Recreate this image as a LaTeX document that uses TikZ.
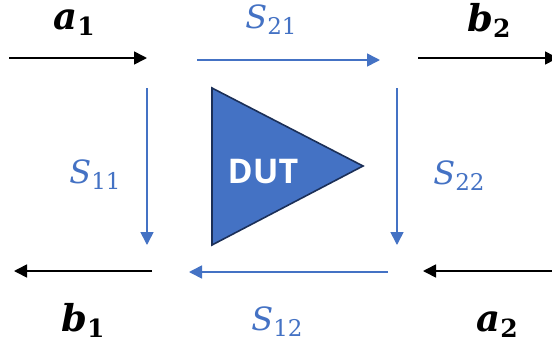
\documentclass[tikz,border=0pt]{standalone}
\usepackage{fontspec}
\setmainfont{DejaVu Serif}
\newfontfamily\dutfont{Open Sans}
\usetikzlibrary{arrows.meta}
\definecolor{dutblue}{HTML}{4472C4}
\definecolor{dutedge}{HTML}{1B2F57}
\tikzset{
  wave/.style={draw=black,line width=1.6pt,-{Triangle[length=13pt,width=13pt]}},
  param/.style={draw=dutblue,line width=1.6pt,-{Triangle[length=13pt,width=13pt]}},
  sparam/.style={text=dutblue,inner sep=0pt,font=\fontsize{32}{32}\selectfont},
  wavelabel/.style={text=black,inner sep=0pt,font=\fontsize{37}{37}\selectfont},
}
\newcommand{\spar}[2]{\textit{S}\raisebox{-6pt}{\fontsize{23}{23}\selectfont #1#2}}
\newcommand{\wvar}[1]{\textbf{\textit{a}}\raisebox{-6pt}{\fontsize{25}{25}\selectfont\bfseries #1}}
\newcommand{\wvarb}[1]{\textbf{\textit{b}}\raisebox{-6pt}{\fontsize{25}{25}\selectfont\bfseries #1}}
\begin{document}
\begin{tikzpicture}[x=1pt,y=-1pt]
\useasboundingbox (0,0) rectangle (552,349);
\fill[white] (0,0) rectangle (552,349);
% triangle
\path[fill=dutblue,draw=dutedge,line width=1.6pt,line join=miter] (212,88) -- (212,245) -- (363,166) -- cycle;
\node[inner sep=0pt,text=white,font=\dutfont\bfseries\fontsize{34}{34}\selectfont] (dut) at (263,172) {DUT};
% end points
\coordinate (a1s) at (9,58);    \coordinate (a1e) at (147,58);
\coordinate (s21s) at (197,60); \coordinate (s21e) at (380,60);
\coordinate (b2s) at (418,58);  \coordinate (b2e) at (558,58);
\coordinate (s11s) at (147,88); \coordinate (s11e) at (147,245);
\coordinate (s22s) at (397,88); \coordinate (s22e) at (397,245);
\coordinate (b1s) at (152,271); \coordinate (b1e) at (14,271);
\coordinate (s12s) at (388,272);\coordinate (s12e) at (189,272);
\coordinate (a2s) at (556,271); \coordinate (a2e) at (423,271);
\draw[wave] (a1s) -- (a1e);
\draw[wave] (b2s) -- (b2e);
\draw[wave] (b1s) -- (b1e);
\draw[wave] (a2s) -- (a2e);
\draw[param] (s21s) -- (s21e);
\draw[param] (s11s) -- (s11e);
\draw[param] (s22s) -- (s22e);
\draw[param] (s12s) -- (s12e);
% labels
\node[wavelabel] (la1) at (74,23) {\wvar{1}};
\node[wavelabel] (lb2) at (489,20) {\wvarb{2}};
\node[wavelabel] (lb1) at (83,320) {\wvarb{1}};
\node[wavelabel] (la2) at (497,325) {\wvar{2}};
\node[sparam] (l21) at (271,20) {\spar{2}{1}};
\node[sparam] (l11) at (95,175) {\spar{1}{1}};
\node[sparam] (l22) at (459,176) {\spar{2}{2}};
\node[sparam] (l12) at (277,322) {\spar{1}{2}};
\end{tikzpicture}
\end{document}
